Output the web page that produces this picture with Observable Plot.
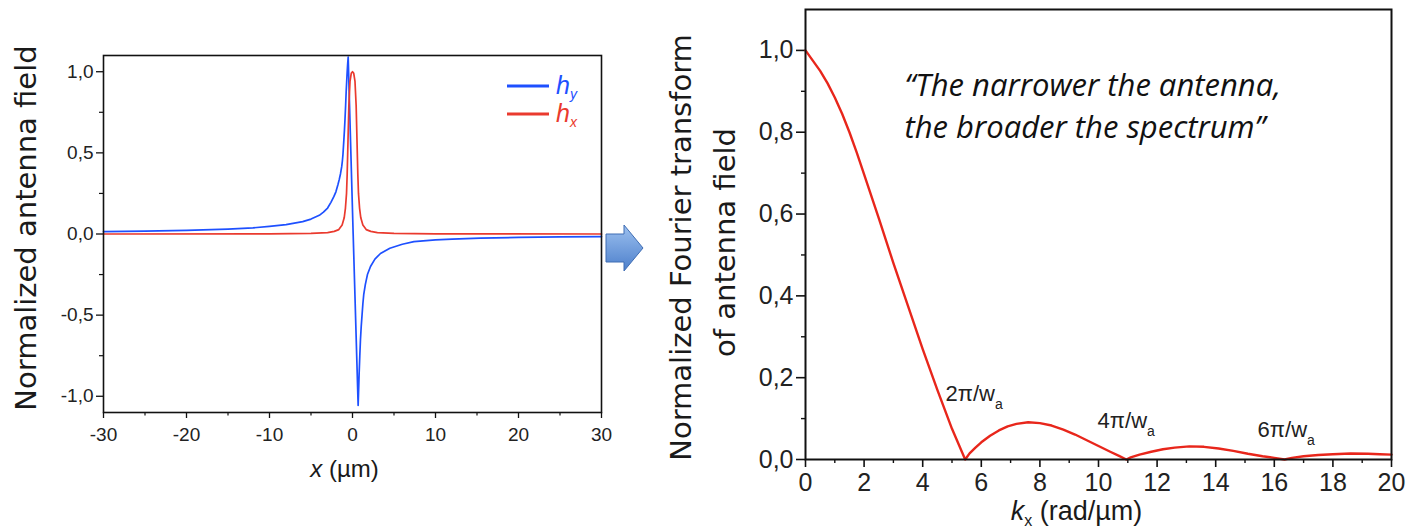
<!DOCTYPE html>
<html><head><meta charset="utf-8">
<script src="https://cdn.jsdelivr.net/npm/d3@7"></script>
<script src="https://cdn.jsdelivr.net/npm/@observablehq/plot@0.6"></script>
<style>
body{margin:0;background:#fff;width:1408px;height:528px;overflow:hidden;position:relative;}
#left,#right,#arrow{position:absolute;top:0}
#left{left:0px}
#right{left:600px}
#arrow{left:0px;pointer-events:none}
</style></head><body>
<div id="left"></div>
<div id="right"></div>
<svg id="arrow" width="1408" height="528">
  <defs>
    <linearGradient id="ag" x1="0" y1="0" x2="0" y2="1">
      <stop offset="0" stop-color="#9cc0ef"/>
      <stop offset="1" stop-color="#4c7fcb"/>
    </linearGradient>
  </defs>
  <polygon points="606,234 624,234 624,225 643,248 624,271 624,262 606,262" fill="url(#ag)" stroke="#3f6db3" stroke-width="1"/>
</svg>
<script>
// ---- Left chart data: normalized antenna field ----
const hyX = [-30, -25, -20, -15, -12, -10, -8, -6, -5, -4, -3.5, -3, -2.6, -2.25, -2, -1.75, -1.6, -1.45, -1.3, -1.22, -1.15, -1.04, -0.97, -0.9, -0.83, -0.76, -0.7, -0.64, -0.58, -0.52, 0.08, 0.68, 0.74, 0.8, 0.88, 0.96, 1.05, 1.15, 1.25, 1.36, 1.55, 1.8, 2.17, 2.7, 3.37, 4.5, 6, 7.4, 10, 12, 15.4, 20, 25, 30];
const hyV = [0.015, 0.018, 0.022, 0.030, 0.038, 0.047, 0.058, 0.076, 0.092, 0.115, 0.135, 0.16, 0.195, 0.23, 0.26, 0.305, 0.335, 0.37, 0.415, 0.45, 0.49, 0.58, 0.64, 0.71, 0.79, 0.88, 0.94, 1.0, 1.05, 1.09, 0.0, -1.056, -0.96, -0.86, -0.75, -0.65, -0.57, -0.5, -0.43, -0.37, -0.31, -0.25, -0.2, -0.155, -0.12, -0.088, -0.063, -0.047, -0.036, -0.031, -0.026, -0.021, -0.018, -0.016];
const hxX = [-30, -10, -5, -3, -2.2, -1.65, -1.25, -1.0, -0.85, -0.72, -0.64, -0.54, -0.44, -0.3, -0.15, 0, 0.15, 0.3, 0.44, 0.54, 0.64, 0.72, 0.85, 1.0, 1.25, 1.65, 2.2, 3, 5, 10, 30];
const hxV = [0.0, 0.001, 0.004, 0.009, 0.016, 0.027, 0.055, 0.10, 0.16, 0.25, 0.37, 0.58, 0.79, 0.94, 0.99, 1.0, 0.99, 0.94, 0.79, 0.58, 0.37, 0.25, 0.16, 0.10, 0.055, 0.027, 0.016, 0.009, 0.004, 0.001, 0.0];
const leftYTicks = [-1, -0.5, 0, 0.5, 1];
const leftYMinor = [-0.75, -0.25, 0.25, 0.75];
const leftXTicks = [-30, -20, -10, 0, 10, 20, 30];
const leftXMinor = [-25, -15, -5, 5, 15, 25];
const legendNames = ["y", "x"];

// ---- Right chart data: normalized Fourier transform ----
const kx  = [0, 0.25, 0.5, 0.75, 1.0, 1.25, 1.5, 1.75, 2.0, 2.5, 3.0, 3.5, 4.0, 4.5, 5.0, 5.45,
             5.6, 5.8, 6.0, 6.3, 6.6, 6.9, 7.2, 7.6, 8.0, 8.4, 8.8, 9.2, 9.6, 10.0, 10.4, 10.7, 10.95,
             11.1, 11.4, 11.8, 12.2, 12.6, 13.1, 13.6, 14.1, 14.6, 15.1, 15.6, 16.0, 16.35,
             16.6, 17.0, 17.5, 18.0, 18.6, 19.2, 19.6, 20.0];
const ftV = [1.0, 0.975, 0.95, 0.92, 0.885, 0.845, 0.80, 0.75, 0.697, 0.59, 0.48, 0.375, 0.27, 0.17, 0.075, 0.0,
             0.015, 0.029, 0.042, 0.058, 0.071, 0.081, 0.087, 0.091, 0.089, 0.083, 0.073, 0.061, 0.047, 0.033, 0.019, 0.009, 0.0,
             0.005, 0.012, 0.019, 0.025, 0.029, 0.032, 0.031, 0.027, 0.021, 0.014, 0.008, 0.004, 0.0,
             0.004, 0.008, 0.011, 0.013, 0.0145, 0.014, 0.013, 0.012];
const rightYTicks = [0, 0.2, 0.4, 0.6, 0.8, 1.0];
const rightYMinor = [0.1, 0.3, 0.5, 0.7, 0.9];
const rightXTicks = [0, 2, 4, 6, 8, 10, 12, 14, 16, 18, 20];
const rightXMinor = [1, 3, 5, 7, 9, 11, 13, 15, 17, 19];
const annotLabels = ["2π/w", "4π/w", "6π/w"];
const annotK = [4.78, 9.97, 15.43];
const annotV = [0.144, 0.076, 0.054];
const quoteLines = ["“The narrower the antenna,", "the broader the spectrum”"];

const BLUE = "#1e50ff", RED = "#ea3a2e", RED2 = "#e8261b", INK = "#1a1a1a";
const fmt = d => d.toFixed(1).replace(".", ",");
const SANS = "Liberation Sans, Arial, sans-serif";

function findText(svg, str) {
  return d3.select(svg).selectAll("text").filter(function () { return this.textContent === str; });
}

const hy = hyX.map((x, i) => ({x, v: hyV[i]}));
const hx = hxX.map((x, i) => ({x, v: hxV[i]}));

const left = Plot.plot({
  width: 620, height: 528,
  marginLeft: 103, marginRight: 19, marginTop: 55, marginBottom: 116,
  x: {domain: [-30, 30]},
  y: {domain: [-1.1, 1.1]},
  style: {fontFamily: SANS, background: "transparent", color: INK},
  marks: [
    Plot.axisY({ticks: leftYTicks, tickSize: 7, tickPadding: 3, tickFormat: fmt, fontSize: 19, label: null, stroke: "#111", strokeWidth: 1.3, fill: "#222"}),
    Plot.axisY({ticks: leftYMinor, tickSize: 4, tickFormat: () => "", label: null, stroke: "#111", strokeWidth: 1.2}),
    Plot.axisX({ticks: leftXTicks, tickSize: 6, tickPadding: 9, tickFormat: d => String(d), fontSize: 19, label: null, stroke: "#111", strokeWidth: 1.3, fill: "#222"}),
    Plot.axisX({ticks: leftXMinor, tickSize: 3.5, tickFormat: () => "", label: null, stroke: "#111", strokeWidth: 1.2}),
    Plot.line(hy, {x: "x", y: "v", stroke: BLUE, strokeWidth: 1.7}),
    Plot.line(hx, {x: "x", y: "v", stroke: RED, strokeWidth: 1.7}),
    Plot.frame({stroke: "#111", strokeWidth: 1.6}),
    Plot.text(["Normalized antenna field"], {text: d => d, frameAnchor: "left", rotate: -90, dx: -77, dy: -6, fontSize: 29, fontFamily: "DejaVu Sans", textAnchor: "middle", lineAnchor: "middle", fill: INK}),
    Plot.text(["x (µm)"], {text: d => d, frameAnchor: "bottom", dx: -8, dy: 64, lineAnchor: "bottom", fontSize: 24, fill: INK})
  ]
});
document.getElementById("left").appendChild(left);

// italic variable in x label
findText(left, "x (µm)").each(function () {
  const t = d3.select(this);
  const s = this.textContent;
  t.text(null);
  t.append("tspan").attr("font-style", "italic").text(s.slice(0, 1));
  t.append("tspan").text(s.slice(1));
});
// legend
{
  const g = d3.select(left).append("g").attr("font-family", SANS).attr("text-anchor", "start");
  const cols = [BLUE, RED];
  const ys = [86, 114];
  legendNames.forEach((sub, i) => {
    g.append("line").attr("x1", 507).attr("x2", 549).attr("y1", ys[i]).attr("y2", ys[i])
      .attr("stroke", cols[i]).attr("stroke-width", 3);
    const t = g.append("text").attr("x", 556).attr("y", ys[i] + 8).attr("fill", cols[i])
      .attr("text-anchor", "start").attr("font-size", 25).attr("font-style", "italic");
    t.append("tspan").text("h");
    t.append("tspan").attr("font-size", 14).attr("dy", 5).text(sub);
  });
}

const ft = kx.map((k, i) => ({k, v: ftV[i]}));
const annot = annotLabels.map((label, i) => ({label, k: annotK[i], v: annotV[i]}));

const right = Plot.plot({
  width: 808, height: 528,
  marginLeft: 205, marginRight: 17, marginTop: 9, marginBottom: 69,
  x: {domain: [0, 20]},
  y: {domain: [0, 1.1]},
  style: {fontFamily: SANS, background: "transparent", color: INK},
  marks: [
    Plot.axisY({ticks: rightYTicks, tickSize: 9, tickPadding: 3, tickFormat: fmt, fontSize: 25, label: null, stroke: "#111", strokeWidth: 1.6, fill: "#222"}),
    Plot.axisY({ticks: rightYMinor, tickSize: 4, tickFormat: () => "", label: null, stroke: "#111", strokeWidth: 1.4}),
    Plot.axisX({ticks: rightXTicks, tickSize: 8, tickPadding: 6, tickFormat: d => String(d), fontSize: 25, label: null, stroke: "#111", strokeWidth: 1.6, fill: "#222"}),
    Plot.axisX({ticks: rightXMinor, tickSize: 4, tickFormat: () => "", label: null, stroke: "#111", strokeWidth: 1.4}),
    Plot.line(ft, {x: "k", y: "v", stroke: RED2, strokeWidth: 2.4}),
    Plot.frame({stroke: "#111", strokeWidth: 2}),
    Plot.text(annot, {x: "k", y: "v", text: "label", textAnchor: "start", lineAnchor: "bottom", fontSize: 22, fill: "#222"}),
    Plot.text(["Normalized Fourier transform"], {text: d => d, frameAnchor: "left", rotate: -90, dx: -124, dy: 13, fontSize: 29, fontFamily: "DejaVu Sans", textAnchor: "middle", lineAnchor: "middle", fill: INK}),
    Plot.text(["of antenna field"], {text: d => d, frameAnchor: "left", rotate: -90, dx: -80, dy: 8, fontSize: 29, fontFamily: "DejaVu Sans", textAnchor: "middle", lineAnchor: "middle", fill: INK}),
    Plot.text([quoteLines[0]], {text: d => d, frameAnchor: "top-left", dx: 99, dy: 86, textAnchor: "start", lineAnchor: "bottom", fontFamily: "Open Sans", fontStyle: "italic", fontSize: 31, fill: "#111"}),
    Plot.text([quoteLines[1]], {text: d => d, frameAnchor: "top-left", dx: 99, dy: 128, textAnchor: "start", lineAnchor: "bottom", fontFamily: "Open Sans", fontStyle: "italic", fontSize: 31, fill: "#111"}),
    Plot.text(["kx (rad/µm)"], {text: d => d, frameAnchor: "bottom", dx: -22, dy: 60, lineAnchor: "bottom", fontSize: 27, fill: INK})
  ]
});
document.getElementById("right").appendChild(right);

// subscripts for annotations and k label
annotLabels.forEach(lbl => {
  findText(right, lbl).each(function () {
    d3.select(this).append("tspan").attr("font-size", 14).attr("dy", 8).text("a");
  });
});
findText(right, "kx (rad/µm)").each(function () {
  const t = d3.select(this);
  const s = this.textContent;
  t.text(null);
  t.append("tspan").attr("font-style", "italic").text(s.slice(0, 1));
  t.append("tspan").attr("font-size", 16).attr("dy", 6).text(s.slice(1, 2));
  t.append("tspan").attr("dy", -6).text(s.slice(2));
});
</script>
</body></html>
